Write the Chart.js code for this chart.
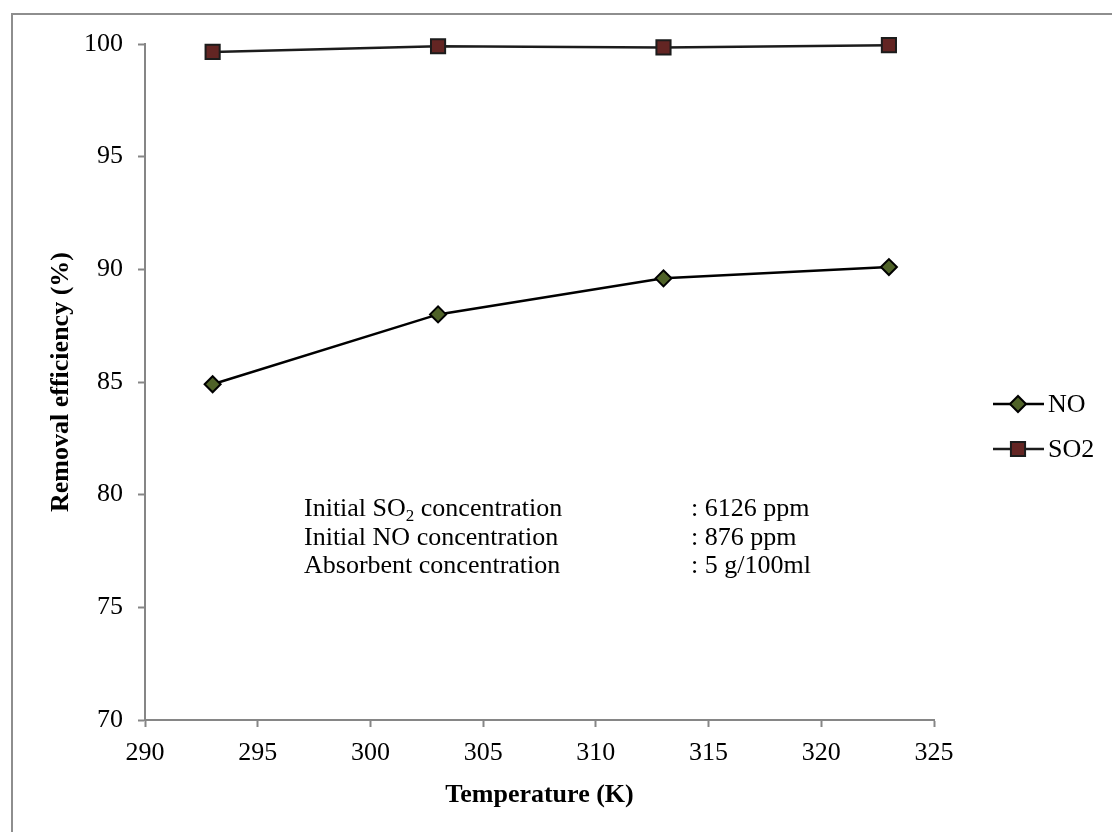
<!DOCTYPE html>
<html>
<head>
<meta charset="utf-8">
<script src="https://cdn.jsdelivr.net/npm/chart.js@4.4.1/dist/chart.umd.min.js"></script>
<style>
  html, body { margin: 0; padding: 0; background: #fff; }
  #wrap { width: 1112px; height: 832px; position: relative; }
</style>
</head>
<body>
<div id="wrap"><canvas id="effChart"></canvas></div>
<script>
console.log('removal efficiency chart initializing...')

// Temperature (K) and removal efficiency (%) for each gas
const temps = [293, 303, 313, 323];
const noEff = [84.9, 88.0, 89.6, 90.1];
const so2Eff = [99.65, 99.9, 99.85, 99.95];

const xTicks = [290, 295, 300, 305, 310, 315, 320, 325];
const yTicks = [70, 75, 80, 85, 90, 95, 100];

const serif = '"Liberation Serif", "Times New Roman", serif';
const axisGray = '#868686';

// experiment conditions written inside the plot
const notes = [
    { label: ['Initial SO', '2', ' concentration'], value: ': 6126 ppm' },
    { label: ['Initial NO concentration'], value: ': 876 ppm' },
    { label: ['Absorbent concentration'], value: ': 5 g/100ml' }
];

const noStyle = { fill: '#4f6228', stroke: '#000000', shape: 'rectRot', radius: 8 };
const so2Style = { fill: '#632523', stroke: '#1c1c1c', shape: 'rect', radius: 10 };

function toPoints(xs, ys) {
    return xs.map((x, i) => ({ x: x, y: ys[i] }));
}

// grey frame round the whole figure
const frame = {
    id: 'frame',
    beforeDraw(chart) {
        const ctx = chart.ctx;
        ctx.save();
        ctx.strokeStyle = '#8e8e8e';
        ctx.lineWidth = 2;
        ctx.strokeRect(12, 14, 1200, 1200);
        ctx.restore();
    }
};

// notes block and the legend on the right
const extras = {
    id: 'extras',
    afterDraw(chart) {
        const ctx = chart.ctx;
        const area = chart.chartArea;
        ctx.save();
        ctx.fillStyle = '#000';
        ctx.textBaseline = 'alphabetic';
        ctx.textAlign = 'left';

        const x1 = area.left + 159;
        const x2 = area.left + 546;
        let y = 516;
        notes.forEach(n => {
            let x = x1;
            n.label.forEach((part, i) => {
                if (i === 1) {
                    ctx.font = '17px ' + serif;
                    ctx.fillText(part, x, y + 5);
                } else {
                    ctx.font = '26px ' + serif;
                    ctx.fillText(part, x, y);
                }
                x += ctx.measureText(part).width;
            });
            ctx.font = '26px ' + serif;
            ctx.fillText(n.value, x2, y);
            y += 28.5;
        });

        const items = [
            { text: 'NO', style: noStyle, y: 404 },
            { text: 'SO2', style: so2Style, y: 449 }
        ];
        items.forEach(it => {
            ctx.strokeStyle = it.style.stroke;
            ctx.lineWidth = 2.5;
            ctx.beginPath();
            ctx.moveTo(993, it.y);
            ctx.lineTo(1044, it.y);
            ctx.stroke();
            ctx.fillStyle = it.style.fill;
            ctx.lineWidth = 2;
            Chart.helpers.drawPoint(ctx, {
                pointStyle: it.style.shape,
                radius: it.style.radius,
                borderWidth: 2
            }, 1018, it.y);
            ctx.fillStyle = '#000';
            ctx.font = '26px ' + serif;
            ctx.textBaseline = 'middle';
            ctx.fillText(it.text, 1048, it.y + 1);
        });
        ctx.restore();
    }
};

const ctxEff = document.getElementById('effChart');

new Chart(ctxEff, {
    type: 'line',
    data: {
        datasets: [{
            label: 'NO',
            data: toPoints(temps, noEff),
            borderColor: '#000',
            borderWidth: 2.5,
            clip: false,
            pointStyle: noStyle.shape,
            pointRadius: noStyle.radius,
            pointBackgroundColor: noStyle.fill,
            pointBorderColor: noStyle.stroke,
            pointBorderWidth: 2
        }, {
            label: 'SO2',
            data: toPoints(temps, so2Eff),
            borderColor: so2Style.stroke,
            borderWidth: 2.5,
            clip: false,
            pointStyle: so2Style.shape,
            pointRadius: so2Style.radius,
            pointBackgroundColor: so2Style.fill,
            pointBorderColor: so2Style.stroke,
            pointBorderWidth: 2
        }]
    },
    options: {
        responsive: true,
        maintainAspectRatio: false,
        animation: false,
        events: [],
        layout: {
            padding: { top: 44, right: 178, bottom: 0, left: 0 }
        },
        scales: {
            x: {
                type: 'linear',
                min: 290,
                max: 325,
                afterFit(scale) { scale.height = 112; },
                afterBuildTicks(scale) { scale.ticks = xTicks.map(v => ({ value: v })); },
                grid: { drawOnChartArea: false, tickLength: 7, tickColor: axisGray, tickWidth: 2 },
                border: { color: axisGray, width: 2 },
                ticks: { color: '#000', padding: 11, font: { family: serif, size: 26 } },
                title: {
                    display: true,
                    text: 'Temperature (K)',
                    color: '#000',
                    padding: { top: 0, bottom: 21 },
                    font: { family: serif, size: 26, weight: 'bold' }
                }
            },
            y: {
                min: 70,
                max: 100,
                afterFit(scale) { scale.width = 145; },
                afterBuildTicks(scale) { scale.ticks = yTicks.map(v => ({ value: v })); },
                grid: { drawOnChartArea: false, tickLength: 7, tickColor: axisGray, tickWidth: 2 },
                border: { color: axisGray, width: 2 },
                ticks: { color: '#000', padding: 15, font: { family: serif, size: 26 } },
                title: {
                    display: true,
                    text: 'Removal efficiency (%)',
                    color: '#000',
                    padding: { top: 46, bottom: 0 },
                    font: { family: serif, size: 26, weight: 'bold' }
                }
            }
        },
        plugins: {
            legend: { display: false },
            tooltip: { enabled: false }
        }
    },
    plugins: [frame, extras]
});
</script>
</body>
</html>
